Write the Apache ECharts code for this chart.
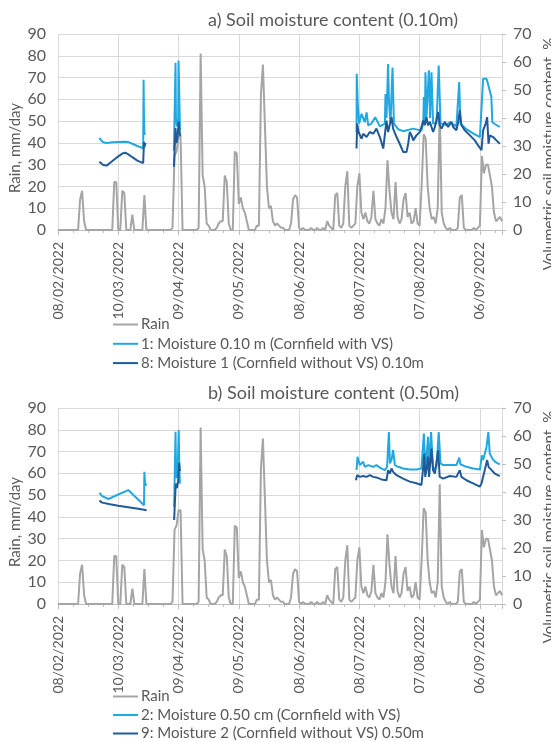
<!DOCTYPE html>
<html><head><meta charset="utf-8">
<script src="https://cdn.jsdelivr.net/npm/echarts/dist/echarts.min.js"></script>
<style>html,body{margin:0;padding:0;background:#fff}#c{width:551px;height:742px}</style>
</head><body><div id="c"></div>
<script>
// ---- data ----
const startDate = Date.UTC(2022, 1, 8);           // day 0 = 08/02/2022
const xMaxDay = 221;
const xTickDays = 30;
const rainLeftTicks = [0, 90, 10];                 // min, max, step
const moistRightTicks = [0, 70, 10];

const titles = ['a) Soil moisture content (0.10m)', 'b) Soil moisture content (0.50m)'];
const rainName = 'Rain';
const topNames = ['1: Moisture 0.10 m (Cornfield with VS)', '8: Moisture 1 (Cornfield without VS) 0.10m'];
const bottomNames = ['2: Moisture 0.50 cm (Cornfield with VS)', '9: Moisture 2 (Cornfield without VS) 0.50m'];
const leftAxisName = 'Rain, mm/day';
const rightAxisName = 'Volumetric soil moisture content, %';

// daily rain, mm/day, day 0 .. 221
const rainDaily = [
  0,0,0,0,0,0,0,0,0,0,
  0,14,18,4,0,0,0,0,0,0,
  0,0,0,0,0,0,0,0,22,22,
  0,0,18,17,0,0,0,7,0,0,
  0,0,0,16,0,0,0,0,0,0,
  0,0,0,0,0,0,0,1,34,36,
  43,43,0,0,0,0,0,0,0,0,
  1,81,25,20,3,2,0,0,0,1,
  3,4,4,25,22,3,0,0,36,35,
  12,15,10,8,4,0,0,0,0,2,
  2,62,76,48,20,10,11,4,2,3,
  2,1,1,0,0,0,3,14,16,15,
  1,0,1,0,0,0,1,0,0,1,
  0,0,1,0,4,2,1,0,16,17,
  2,1,3,20,27,2,1,2,3,20,
  26,8,5,8,4,3,6,18,5,3,
  2,5,3,10,32,18,8,5,22,6,
  3,5,14,17,6,8,3,4,10,3,
  2,20,44,42,20,10,5,6,3,10,
  55,8,3,1,0,1,0,0,0,1,
  15,16,1,0,0,0,0,1,0,1,
  2,34,26,30,30,25,20,8,4,5,
  6,4
];

// moisture [day, %]; null = no record
const moist010With = [
  [20.6,32.9],[21.5,32.0],[22.5,31.3],[24.2,31.1],[27,31.3],[30,31.4],[33,31.5],[35,31.4],[37,30.8],[39.5,30.0],[42.4,29.2],[42.6,53.7],[42.8,40],[43.0,34.5],[43.6,34.2],
  [50,null],
  [57.7,28.2],[58.3,28.5],[58.5,59.7],[58.7,40],[59.2,37],[59.8,38],[60.0,60.5],[60.3,50],[60.7,35.5],
  [100,null],
  [148.6,35.0],[148.7,55.8],[149.2,45],[149.9,38.0],[151.1,41.5],[151.9,42.0],[152.7,38.5],[153.6,42.0],[154.4,37.4],[156.0,38.0],[157.9,40.3],[160.2,37.0],[162.7,38.0],[163.0,48.6],[163.5,40],[164.3,59.3],[164.8,45],[165.5,38],[166.5,58],[167.2,38],[169.3,36],[171.8,35.3],[176.8,36.2],[180.9,35.5],[181.8,38],[182.1,47.5],[182.6,38],[182.9,56.3],[183.4,40],[184.6,57],[185.2,40],[185.9,56.3],[186.7,38],[188.4,38],[189.5,58.7],[190.4,38],[193.4,37.5],[195.0,38.5],[198.3,37],[199.7,52.8],[200.3,38],[203.3,36],[206.6,34.5],[210.0,33.2],[211.6,54],[213.3,54],[214.1,52],[215.7,47.5],[216.2,38.5],[218.2,37.5],[219.9,36.8]
];
const moist010Without = [
  [20.6,24.4],[21.5,23.8],[22.5,23.2],[24.2,23.0],[26,24],[28,25.2],[30,26.3],[32,27.3],[33.5,27.6],[35,27.0],[37,26.0],[39.5,24.8],[42.4,23.9],[42.8,31.5],[43.0,29.5],[43.4,31],[43.6,30.5],
  [50,null],
  [57.7,22.6],[58.3,23.0],[58.5,36.4],[58.9,31.1],[59.4,32.6],[60.1,38.7],[60.5,35.0],[60.9,33.5],
  [100,null],
  [148.6,29.1],[148.9,38.0],[149.6,35.0],[151.1,32.6],[151.9,34.4],[153.6,33.2],[155.2,35.0],[156.9,34.4],[158.5,36.2],[160.2,33.2],[161.9,29.1],[162.7,29.7],[163.5,39.1],[164.3,35.0],[166.0,40.3],[166.8,36.2],[168.5,33.2],[170.1,30.8],[171.8,27.9],[172.6,28.5],[173.5,27.9],[174.3,30.8],[175.1,35.0],[176.0,33.8],[176.8,32.0],[178.4,33.8],[180.1,35.0],[180.9,36.8],[181.8,39.1],[182.6,37.4],[183.4,40.3],[184.2,37.4],[185.1,38.6],[185.9,36.8],[186.7,35.0],[187.6,36.8],[189.2,42.1],[190.0,37.4],[190.9,36.2],[192.5,38.6],[194.2,36.8],[195.8,38.6],[196.7,36.8],[198.3,35.6],[199.2,38.6],[200.0,42.7],[200.8,37.4],[202.5,35.6],[205.0,33.8],[207.5,32.0],[209.1,30.2],[210.8,28.5],[211.6,35.6],[212.9,38.0],[213.6,40.3],[214.3,30.8],[214.9,33.8],[216.6,33.2],[218.2,32.0],[219.9,30.8]
];
const moist050With = [
  [20.6,39.7],[22,38.5],[25.1,37.5],[30,39.1],[35,40.7],[42.8,35.3],[43.0,47.2],[43.3,43],[44.1,42.4],
  [50,null],
  [57.8,34.6],[58.3,35],[58.5,61.5],[58.8,45],[59.5,46],[60.1,62.1],[60.4,48],[60.7,43],
  [100,null],
  [148.6,47.8],[149.1,52.6],[150.2,49.6],[151.9,50.8],[152.7,49.0],[154.4,49.6],[156.9,49.0],[158.5,49.6],[160.2,48.7],[162.7,47.8],[163.8,49.0],[164.7,61.4],[165.2,50.2],[166.0,51.4],[166.8,55.0],[167.7,49.6],[169.3,49.0],[171.8,48.4],[175.1,48.0],[178.4,48.0],[180.9,48.4],[182.1,60.9],[182.8,49.0],[183.4,52.6],[184.2,59.7],[184.7,47.8],[185.7,61.4],[186.7,47.8],[188.4,49.0],[189.5,61.4],[190.4,50.2],[191.7,49.6],[195.0,49.6],[198.3,49.6],[199.7,52.3],[200.3,49.9],[203.3,49.0],[206.6,48.4],[210.0,48.0],[211.0,53.1],[211.6,51.4],[213.3,56.1],[214.2,61.4],[214.9,53.7],[216.6,51.4],[218.2,50.5],[219.9,49.9]
];
const moist050Without = [
  [20.6,36.9],[22,36.2],[25.9,35.6],[30,35.1],[35.8,34.5],[40,34],[44.1,33.5],
  [50,null],
  [57.8,30.0],[58.3,30.5],[58.6,43.0],[59.2,41.4],[59.8,44],[60.3,50.4],[60.6,48],[60.8,47.5],
  [100,null],
  [148.3,44.2],[148.9,46.0],[150.2,45.4],[151.9,45.7],[153.6,45.4],[155.2,46.0],[156.9,45.4],[158.5,45.2],[161.0,44.5],[163.5,44.2],[164.3,47.8],[165.2,46.6],[166.0,48.4],[166.8,47.2],[168.5,46.0],[171.8,44.8],[175.1,43.7],[178.4,43.1],[180.9,42.5],[181.8,49.0],[182.3,53.7],[182.8,45.4],[183.4,47.8],[184.2,52.6],[184.7,45.4],[185.9,55.5],[186.7,47.8],[187.6,46.6],[189.2,54.9],[190.0,45.4],[191.7,44.8],[195.0,45.7],[198.3,45.4],[200.0,47.8],[200.8,45.4],[203.3,44.2],[206.6,43.1],[210.0,41.9],[210.8,43.1],[212.4,47.8],[213.6,51.4],[214.3,49.0],[215.8,47.8],[217.4,46.6],[219.9,45.7]
];

// ---- styles ----
const FONT = 'Lato';
const TXT = '#595959';
const GRID = '#d9d9d9';
const C_RAIN = '#a5a5a5', C_LIGHT = '#21a8e1', C_DARK = '#1f5a99';

function pad(n){ return (n < 10 ? '0' : '') + n; }
function dayLabel(v){
  if (Math.round(v) % xTickDays !== 0 || v > xMaxDay - 5) return '';
  const d = new Date(startDate + v * 86400000);
  return pad(d.getUTCDate()) + '/' + pad(d.getUTCMonth() + 1) + '/' + d.getUTCFullYear();
}
const rainPairs = rainDaily.map((v, i) => [i, v]);

const plotTop = [34, 408];
function xAx(i){
  return {
    type: 'value', gridIndex: i, min: 0, max: xMaxDay, interval: xTickDays,
    axisLine: { show: true, onZero: false, lineStyle: { color: '#bfbfbf', width: 1 } },
    axisTick: { show: true, length: 5, lineStyle: { color: '#bfbfbf' } },
    minorTick: { show: true, splitNumber: 4, length: 3, lineStyle: { color: '#bfbfbf' } },
    splitLine: { show: true, lineStyle: { color: GRID, width: 1 } },
    axisLabel: { rotate: 90, margin: 12, color: TXT, fontFamily: FONT, fontSize: 14, formatter: dayLabel, showMaxLabel: false }
  };
}
function yLeft(i){
  return {
    type: 'value', gridIndex: i, position: 'left', min: rainLeftTicks[0], max: rainLeftTicks[1], interval: rainLeftTicks[2],
    axisLine: { show: false }, axisTick: { show: false },
    splitLine: { show: true, lineStyle: { color: GRID, width: 1 } },
    axisLabel: { margin: 12, color: TXT, fontFamily: FONT, fontSize: 16 }
  };
}
function yRight(i){
  return {
    type: 'value', gridIndex: i, position: 'right', min: moistRightTicks[0], max: moistRightTicks[1], interval: moistRightTicks[2],
    axisLine: { show: true, lineStyle: { color: GRID } },
    axisTick: { show: true, length: 4, lineStyle: { color: '#bfbfbf' } },
    splitLine: { show: false },
    axisLabel: { margin: 11, color: TXT, fontFamily: FONT, fontSize: 16 }
  };
}
function line(name, data, color, xi, yi, z){
  return { name, type: 'line', data, xAxisIndex: xi, yAxisIndex: yi, symbol: 'none', showSymbol: false,
    connectNulls: false, z, lineStyle: { color, width: 2 }, itemStyle: { color }, animation: false };
}
function rotText(text, x, y){
  return { type: 'text', x, y, rotation: Math.PI / 2, silent: true,
    style: { text, fill: TXT, fontFamily: FONT, fontSize: 15, align: 'center', verticalAlign: 'middle' } };
}
function legend(names, top, gap){
  return { type: 'plain', data: names, orient: 'vertical', left: 113, top, height: 60, padding: 0, itemGap: gap,
    itemWidth: 25, itemHeight: 2, icon: 'rect',
    textStyle: { color: TXT, fontFamily: FONT, fontSize: 15, lineHeight: 14, padding: [0, 0, 0, -2] }, selectedMode: false };
}

const chart = echarts.init(document.getElementById('c'), null, { renderer: 'canvas' });
chart.setOption({
  animation: false,
  backgroundColor: '#fff',
  title: [
    { text: titles[0], left: 208, top: 11, padding: 0, textStyle: { color: TXT, fontFamily: FONT, fontSize: 18, fontWeight: 'normal' } },
    { text: titles[1], left: 208, top: 384, padding: 0, textStyle: { color: TXT, fontFamily: FONT, fontSize: 18, fontWeight: 'normal' } }
  ],
  grid: [
    { left: 58, top: plotTop[0], width: 444, height: 196 },
    { left: 58, top: plotTop[1], width: 444, height: 196 }
  ],
  xAxis: [xAx(0), xAx(1)],
  yAxis: [yLeft(0), yRight(0), yLeft(1), yRight(1)],
  legend: [
    legend([rainName, topNames[0], topNames[1]], 317, 4.3),
    legend([rainName, bottomNames[0], bottomNames[1]], 689, 3.5)
  ],
  graphic: [
    rotText(leftAxisName, 15, 148),
    rotText(leftAxisName, 15, 522),
    rotText(rightAxisName, 549, 154),
    rotText(rightAxisName, 549, 527)
  ],
  series: [
    line(rainName, rainPairs, C_RAIN, 0, 0, 2),
    line(topNames[0], moist010With, C_LIGHT, 0, 1, 3),
    line(topNames[1], moist010Without, C_DARK, 0, 1, 4),
    line(rainName, rainPairs, C_RAIN, 1, 2, 2),
    line(bottomNames[0], moist050With, C_LIGHT, 1, 3, 3),
    line(bottomNames[1], moist050Without, C_DARK, 1, 3, 4)
  ]
});
</script>
</body></html>
